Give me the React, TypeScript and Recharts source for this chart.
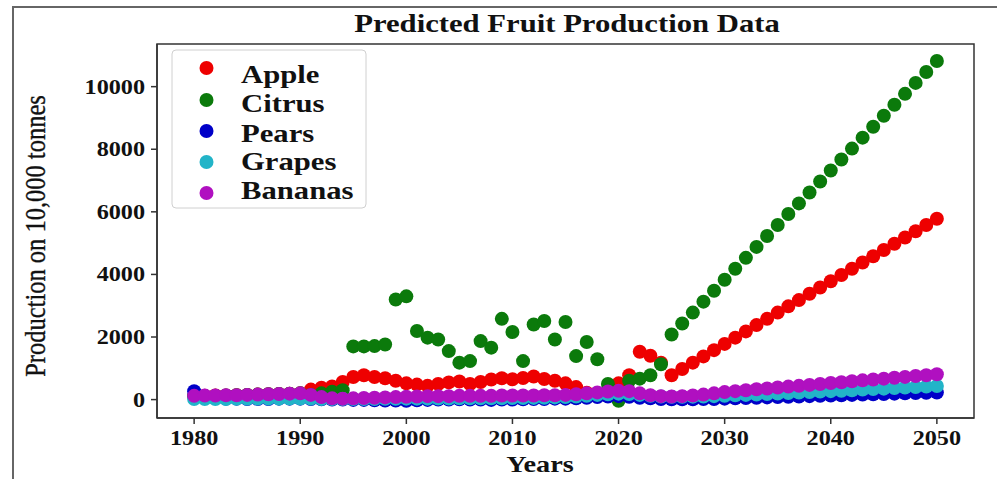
import React from 'react';
import { ScatterChart, Scatter, XAxis, YAxis, ReferenceArea } from 'recharts';

const years = [
  1980, 1981, 1982, 1983, 1984, 1985, 1986, 1987, 1988, 1989,
  1990, 1991, 1992, 1993, 1994, 1995, 1996, 1997, 1998, 1999,
  2000, 2001, 2002, 2003, 2004, 2005, 2006, 2007, 2008, 2009,
  2010, 2011, 2012, 2013, 2014, 2015, 2016, 2017, 2018, 2019,
  2020, 2021, 2022, 2023, 2024, 2025, 2026, 2027, 2028, 2029,
  2030, 2031, 2032, 2033, 2034, 2035, 2036, 2037, 2038, 2039,
  2040, 2041, 2042, 2043, 2044, 2045, 2046, 2047, 2048, 2049,
  2050,
];

const apple = [
  120, 120, 130, 130, 140, 150, 160, 170, 180, 190,
  200, 320, 380, 420, 560, 720, 780, 720, 680, 600,
  520, 480, 440, 500, 550, 580, 500, 560, 640, 680,
  650, 690, 740, 660, 600, 520, 400, 220, 180, 220,
  520, 780, 1530, 1400, 1180, 780, 980, 1180, 1380, 1580,
  1780, 1980, 2180, 2380, 2580, 2780, 2980, 3180, 3380, 3580,
  3780, 3980, 4180, 4380, 4580, 4780, 4980, 5180, 5380, 5580,
  5780,
];

const citrus = [
  100, 110, 120, 130, 140, 150, 160, 170, 180, 190,
  200, 150, 200, 250, 300, 1700, 1700, 1710, 1760, 3200,
  3300, 2190, 1980, 1920, 1550, 1180, 1230, 1870, 1660, 2580,
  2160, 1230, 2400, 2510, 1920, 2480, 1390, 1840, 1290, 500,
  -40, 600, 670, 780, 1130, 2080, 2430, 2780, 3130, 3480,
  3830, 4180, 4530, 4880, 5230, 5580, 5930, 6270, 6620, 6970,
  7320, 7670, 8020, 8370, 8720, 9070, 9420, 9770, 10120, 10470,
  10820,
];

const pears = [
  270, 60, 40, 30, 30, 20, 20, 20, 30, 30,
  30, 20, 10, 0, 0, -10, -10, -20, -30, -30,
  -40, -20, -10, 0, 0, 10, 0, 0, -10, 0,
  0, 10, 20, 20, 30, 30, 40, 60, 80, 100,
  110, 90, 60, 40, 20, 10, 10, 10, 20, 20,
  30, 40, 50, 60, 70, 80, 90, 100, 110, 120,
  130, 140, 150, 160, 170, 180, 190, 200, 210, 215,
  225,
];

const grapes = [
  20, 20, 20, 20, 25, 25, 30, 30, 30, 35,
  35, 30, 20, 20, 20, 20, 20, 20, 25, 25,
  30, 30, 30, 35, 35, 40, 40, 40, 45, 45,
  50, 50, 55, 60, 70, 80, 100, 120, 150, 170,
  190, 180, 150, 120, 100, 90, 90, 95, 100, 110,
  120, 135, 150, 165, 180, 195, 210, 225, 240, 255,
  270, 285, 300, 320, 335, 350, 370, 385, 400, 415,
  434,
];

const bananas = [
  120, 130, 130, 140, 140, 150, 160, 170, 180, 190,
  200, 150, 80, 40, 30, 40, 50, 60, 70, 80,
  90, 100, 110, 110, 110, 120, 120, 120, 120, 130,
  130, 130, 130, 140, 140, 150, 170, 200, 230, 260,
  280, 270, 200, 140, 110, 100, 110, 130, 160, 200,
  240, 270, 300, 330, 355, 385, 415, 440, 470, 500,
  530, 555, 585, 615, 640, 670, 700, 725, 755, 780,
  810,
];

const xTicks = [1980, 1990, 2000, 2010, 2020, 2030, 2040, 2050];
const yTicks = [0, 2000, 4000, 6000, 8000, 10000];
const seriesNames = ['Apple', 'Citrus', 'Pears', 'Grapes', 'Bananas'];
const seriesColors = ['#ee0000', '#0b7a0b', '#0000c8', '#22b4c8', '#b010c0'];

const SERIF = '"Liberation Serif", "Times New Roman", serif';
const STRETCH = 1.18;
const AXIS = '#333';

const series = [apple, citrus, pears, grapes, bananas].map((vals, i) => ({
  name: seriesNames[i],
  color: seriesColors[i],
  data: years.map((x, j) => ({ x, y: vals[j] })),
}));

const XTick = (props: any) => {
  const { x, y, payload } = props;
  return (
    <g transform={`translate(${x},${y})`}>
      <text x={0} y={19} textAnchor="middle" transform={`scale(${STRETCH},1)`}
        fontFamily={SERIF} fontWeight="bold" fontSize={20.5} fill="#111">
        {payload.value}
      </text>
    </g>
  );
};

const YTick = (props: any) => {
  const { x, y, payload } = props;
  return (
    <g transform={`translate(${x - 4},${y})`}>
      <text x={0} y={7} textAnchor="end" transform={`scale(${STRETCH},1)`}
        fontFamily={SERIF} fontWeight="bold" fontSize={20.5} fill="#111">
        {payload.value}
      </text>
    </g>
  );
};

const dot = (color: string) => (p: any) => <circle cx={p.cx} cy={p.cy} r={7} fill={color} />;

// legend rows: marker centre y, text baseline y
const legendMarkerY = [68, 100, 131, 162, 193];
const legendTextY = [83, 112, 142, 170, 199];

export default function App() {
  return (
    <div style={{ position: 'absolute', left: 0, top: 0, width: 997, height: 479, background: '#fff', overflow: 'hidden' }}>
      <div style={{ position: 'absolute', left: 12, top: 6, width: 990, height: 480, borderTop: '2px solid #666', borderLeft: '2px solid #666' }} />
      <div style={{ position: 'absolute', left: 0, top: 0 }}>
        <ScatterChart width={997} height={479} margin={{ top: 44, right: 23, bottom: 0, left: 0 }}>
          <XAxis type="number" dataKey="x" domain={[1976.5, 2053.5]} ticks={xTicks} allowDataOverflow
            height={61} tick={<XTick />} tickSize={6} stroke={AXIS} strokeWidth={1.5} />
          <YAxis type="number" dataKey="y" domain={[-588, 11363]} ticks={yTicks} allowDataOverflow
            width={157} tick={<YTick />} tickSize={6} stroke={AXIS} strokeWidth={1.5} />
          <ReferenceArea x1={1976.5} x2={2053.5} y1={-588} y2={11363} fill="none" stroke={AXIS} strokeWidth={1.5} />
          {series.map((s) => (
            <Scatter key={s.name} name={s.name} data={s.data} fill={s.color} shape={dot(s.color)} isAnimationActive={false} />
          ))}
        </ScatterChart>
      </div>
      <svg width={997} height={479} style={{ position: 'absolute', left: 0, top: 0, pointerEvents: 'none' }}>
        <text x={567} y={32} textAnchor="middle" transform={`translate(567,0) scale(${STRETCH},1) translate(-567,0)`}
          fontFamily={SERIF} fontWeight="bold" fontSize={26} fill="#111">
          Predicted Fruit Production Data
        </text>
        <text x={0} y={0} textAnchor="middle" transform={`translate(45,236) scale(${STRETCH},1) rotate(-90)`}
          fontFamily={SERIF} fontSize={24.5} fill="#111" stroke="#111" strokeWidth={0.3}>
          Production on 10,000 tonnes
        </text>
        <text x={540} y={472} textAnchor="middle" transform={`translate(540,0) scale(${STRETCH},1) translate(-540,0)`}
          fontFamily={SERIF} fontWeight="bold" fontSize={24} fill="#111">
          Years
        </text>
        <rect x={172} y={50} width={194} height={158} rx={4} fill="#fff" stroke="#d0d0d0" strokeWidth={1} />
        {series.map((s, i) => (
          <g key={s.name}>
            <circle cx={206.5} cy={legendMarkerY[i]} r={7} fill={s.color} />
            <text x={0} y={legendTextY[i]} transform={`translate(241,0) scale(${STRETCH},1)`}
              fontFamily={SERIF} fontWeight="bold" fontSize={26} fill="#111">
              {s.name}
            </text>
          </g>
        ))}
      </svg>
    </div>
  );
}
